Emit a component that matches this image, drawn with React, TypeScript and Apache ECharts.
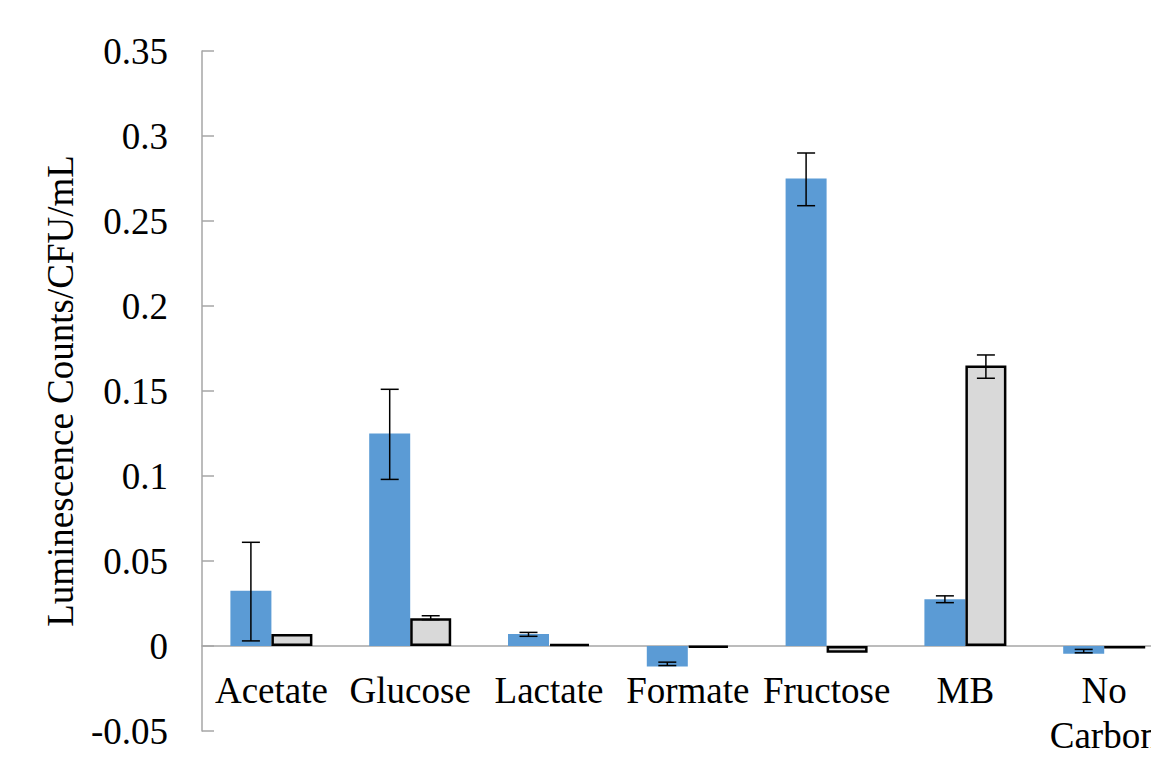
import React, { useEffect, useRef } from "react";
import * as echarts from "echarts";

// Carbon sources tested
const categories = ["Acetate", "Glucose", "Lactate", "Formate", "Fructose", "MB", "No\nCarbon\nSource"];

// Luminescence per CFU/mL, first strain (blue)
const blueValues = [0.0325, 0.125, 0.007, -0.012, 0.275, 0.0275, -0.0045];
const blueLow = [0.003, 0.098, 0.0057, -0.0115, 0.259, 0.0255, -0.004];
const blueHigh = [0.061, 0.151, 0.008, -0.0095, 0.29, 0.0295, -0.002];

// Luminescence per CFU/mL, second strain (grey)
const greyValues = [0.007, 0.0163, 0.0012, -0.001, -0.004, 0.165, -0.0015];
const greyLow = [0.007, 0.0155, 0.0012, -0.001, -0.004, 0.1575, -0.0015];
const greyHigh = [0.007, 0.0178, 0.0012, -0.001, -0.004, 0.1712, -0.0015];

const yTicks = { min: -0.05, max: 0.35, interval: 0.05 };

const BAR_W = 41;
const FONT = "'Liberation Serif', 'Times New Roman', serif";

function errorSeries(low: number[], high: number[], shift: number) {
  return {
    type: "custom",
    z: 10,
    data: low.map((l, i) => [i, l, high[i]]),
    renderItem: (params: any, api: any) => {
      const idx = api.value(0);
      const lo = api.coord([idx, api.value(1)]);
      const hi = api.coord([idx, api.value(2)]);
      if (Math.abs(hi[1] - lo[1]) < 0.5) return null;
      const x = lo[0] + shift;
      const cap = 9;
      const style = { stroke: "#000", lineWidth: 1.5 };
      return {
        type: "group",
        children: [
          { type: "line", shape: { x1: x, y1: lo[1], x2: x, y2: hi[1] }, style },
          { type: "line", shape: { x1: x - cap, y1: lo[1], x2: x + cap, y2: lo[1] }, style },
          { type: "line", shape: { x1: x - cap, y1: hi[1], x2: x + cap, y2: hi[1] }, style },
        ],
      };
    },
  };
}

export default function App() {
  const ref = useRef<HTMLDivElement>(null);

  useEffect(() => {
    if (!ref.current) return;
    const chart = echarts.init(ref.current, undefined, { renderer: "svg" });
    chart.setOption({
      animation: false,
      backgroundColor: "#fff",
      grid: {
        left: 202,
        top: 51,
        width: 971.6,
        height: 680,
        containLabel: false,
        outerBoundsMode: "none",
      },
      graphic: [
        {
          type: "text",
          x: 60,
          y: 391,
          rotation: Math.PI / 2,
          style: {
            text: "Luminescence Counts/CFU/mL",
            font: `37px ${FONT}`,
            fill: "#000",
            textAlign: "center",
            textVerticalAlign: "middle",
          },
        },
      ],
      xAxis: {
        type: "category",
        data: categories,
        axisLine: { onZero: true, lineStyle: { color: "#A6A6A6", width: 1.5 } },
        axisTick: { show: false },
        axisLabel: {
          interval: 0,
          // labels sit just under the zero line rather than the plot's bottom edge
          margin: -63,
          color: "#000",
          fontFamily: FONT,
          fontSize: 37,
          lineHeight: 45,
          hideOverlap: false,
        },
      },
      yAxis: {
        type: "value",
        min: yTicks.min,
        max: yTicks.max,
        interval: yTicks.interval,
        axisLine: { show: true, lineStyle: { color: "#A6A6A6", width: 1.5 } },
        axisTick: { show: true, inside: true, length: 12, lineStyle: { color: "#A6A6A6", width: 1.5 } },
        splitLine: { show: false },
        axisLabel: {
          margin: 34,
          color: "#000",
          fontFamily: FONT,
          fontSize: 37,
        },
      },
      series: [
        {
          type: "bar",
          data: blueValues,
          barWidth: BAR_W,
          barGap: "0%",
          itemStyle: { color: "#5B9BD5" },
        },
        {
          type: "bar",
          data: greyValues,
          barWidth: BAR_W,
          barGap: "0%",
          itemStyle: { color: "#D9D9D9", borderColor: "#000", borderWidth: 2.5 },
        },
        errorSeries(blueLow, blueHigh, -BAR_W / 2),
        errorSeries(greyLow, greyHigh, BAR_W / 2),
      ],
    });
    return () => chart.dispose();
  }, []);

  return (
    <div
      ref={ref}
      style={{ position: "fixed", left: 0, top: 0, width: 1151, height: 767 }}
    />
  );
}
